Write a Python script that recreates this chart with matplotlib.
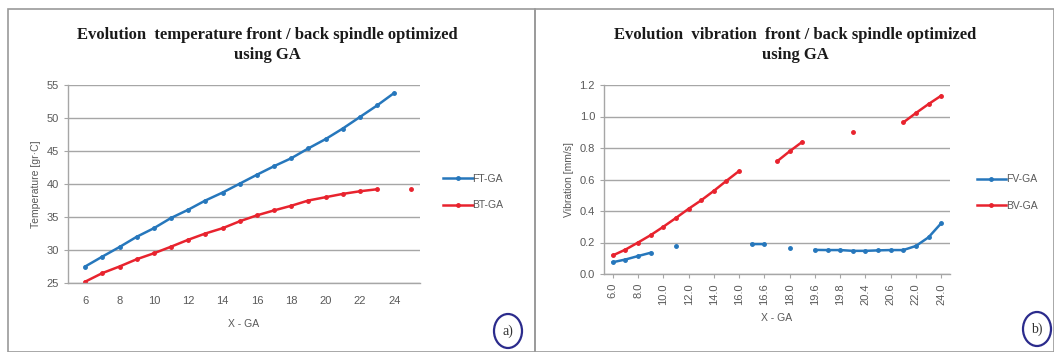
import matplotlib
matplotlib.use("Agg")
import matplotlib.pyplot as plt
from matplotlib.patches import Ellipse, Rectangle
import numpy as np

BLUE = "#2677BC"
RED = "#E8232E"
GRID = "#A6A6A6"
TXT = "#595959"
NAVY = "#2B2B8C"

# temperature chart (a)
temp_x = [6, 7, 8, 9, 10, 11, 12, 13, 14, 15, 16, 17, 18, 19, 20, 21, 22, 23, 24, 25]
ft_ga = [27.5, 29.0, 30.45, 32.0, 33.3, 34.85, 36.1, 37.5, 38.7, 40.05, 41.4, 42.7,
         43.9, 45.4, 46.8, 48.4, 50.15, 51.9, 53.8, np.nan]
bt_ga = [25.2, 26.5, 27.5, 28.6, 29.5, 30.5, 31.55, 32.5, 33.3, 34.35, 35.25, 36.0,
         36.7, 37.5, 38.0, 38.5, 38.9, 39.2, np.nan, 39.2]

# vibration chart (b), category axis, every other label shown
vib_cats = ["6.0", "7.0", "8.0", "9.0", "10.0", "11.0", "12.0", "13.0", "14.0", "15.0",
            "16.0", "16.4", "16.6", "17.0", "18.0", "19.0", "19.6", "19.7", "19.8", "20.0",
            "20.4", "20.5", "20.6", "21.0", "22.0", "23.0", "24.0"]
fv_ga = [0.075, 0.092, 0.114, 0.135, np.nan, 0.178, np.nan, np.nan, np.nan, np.nan,
         np.nan, 0.19, 0.19, np.nan, 0.165, np.nan, 0.153, 0.152, 0.152, 0.147,
         0.147, 0.15, 0.152, 0.152, 0.178, 0.233, 0.322]
bv_ga = [0.118, 0.155, 0.20, 0.247, 0.30, 0.356, 0.414, 0.468, 0.528, 0.592,
         0.654, np.nan, np.nan, 0.715, 0.779, 0.839, np.nan, np.nan, np.nan, 0.90,
         np.nan, np.nan, np.nan, 0.962, 1.022, 1.079, 1.132]

W, H = 1054, 352
fig = plt.figure(figsize=(W / 100, H / 100), dpi=100)
plt.rcParams['font.family'] = ['Liberation Sans', 'DejaVu Sans']


def px_axes(x0, y0, x1, y1):
    return fig.add_axes([x0 / W, 1 - y1 / H, (x1 - x0) / W, (y1 - y0) / H])


def style(ax):
    for s in ["top", "right"]:
        ax.spines[s].set_visible(False)
    for s in ["left", "bottom"]:
        ax.spines[s].set_color(GRID)
        ax.spines[s].set_linewidth(1.0)
    ax.yaxis.grid(True, color=GRID, linewidth=1.0)
    ax.set_axisbelow(True)
    ax.tick_params(colors=GRID, labelcolor=TXT, labelsize=8, length=3, width=0.8)


# panel borders
fig.add_artist(Rectangle((8 / W, 0), 527 / W, 1 - 9 / H, transform=fig.transFigure,
                         fill=False, edgecolor="#9A9A9A", linewidth=1.2))
fig.add_artist(Rectangle((535 / W, 0), 1 - 535 / W, 1 - 9 / H, transform=fig.transFigure,
                         fill=False, edgecolor="#9A9A9A", linewidth=1.2))

# ---- (a) temperature
ax1 = px_axes(68, 85, 420, 283)
ax1.plot(temp_x, ft_ga, color=BLUE, lw=1.8, marker="o", ms=2.5, label="FT-GA")
ax1.plot(temp_x, bt_ga, color=RED, lw=1.8, marker="o", ms=2.5, label="BT-GA")
ax1.set_xlim(5, 25.5)
ax1.set_ylim(25, 55)
ax1.set_xticks(range(6, 25, 2))
ax1.set_yticks(range(25, 56, 5))
style(ax1)
ax1.tick_params(axis="x", length=0, pad=9)
ax1.set_ylabel("Temperature [gr·C]", fontsize=7.5, color=TXT, labelpad=4)
ax1.set_xlabel("X - GA", fontsize=7.5, color=TXT, labelpad=10)
ax1.legend(loc="center left", bbox_to_anchor=(1.04, 0.46), frameon=False, fontsize=7.5,
           labelcolor=TXT, handlelength=2.8, handletextpad=0.0, labelspacing=1.6)
fig.text(267 / W, 1 - 45 / H, "Evolution  temperature front / back spindle optimized\nusing GA",
         ha="center", va="center", fontsize=12, fontweight="bold",
         family="Liberation Serif", linespacing=1.4, color="#1a1a1a")

# ---- (b) vibration
ax2 = px_axes(604, 85, 950, 274)
xc = np.arange(len(vib_cats))
ax2.plot(xc, fv_ga, color=BLUE, lw=1.8, marker="o", ms=2.5, label="FV-GA")
ax2.plot(xc, bv_ga, color=RED, lw=1.8, marker="o", ms=2.5, label="BV-GA")
ax2.set_xlim(-0.7, len(vib_cats) - 0.3)
ax2.set_ylim(0, 1.2)
ax2.set_yticks(np.arange(0, 1.21, 0.2))
ax2.set_yticklabels([f"{v:.1f}" for v in np.arange(0, 1.21, 0.2)])
ax2.set_xticks(xc[::2])
ax2.set_xticklabels(vib_cats[::2], rotation=90)
style(ax2)
ax2.set_ylabel("Vibration [mm/s]", fontsize=7.5, color=TXT, labelpad=4)
ax2.set_xlabel("X - GA", fontsize=7.5, color=TXT, labelpad=6)
ax2.legend(loc="center left", bbox_to_anchor=(1.05, 0.43), frameon=False, fontsize=7.5,
           labelcolor=TXT, handlelength=2.8, handletextpad=0.0, labelspacing=1.6)
fig.text(795 / W, 1 - 45 / H, "Evolution  vibration  front / back spindle optimized\nusing GA",
         ha="center", va="center", fontsize=12, fontweight="bold",
         family="Liberation Serif", linespacing=1.4, color="#1a1a1a")

# circled panel markers
for cx, cy, lab in [(508, 331, "a)"), (1037, 329, "b)")]:
    fig.add_artist(Ellipse((cx / W, 1 - cy / H), 28 / W, 34 / H, transform=fig.transFigure,
                           fill=False, edgecolor=NAVY, linewidth=1.6))
    fig.text(cx / W, 1 - cy / H, lab, ha="center", va="center", fontsize=10,
             family="Liberation Serif", color="#333333")

fig.savefig("out.png", dpi=100)
